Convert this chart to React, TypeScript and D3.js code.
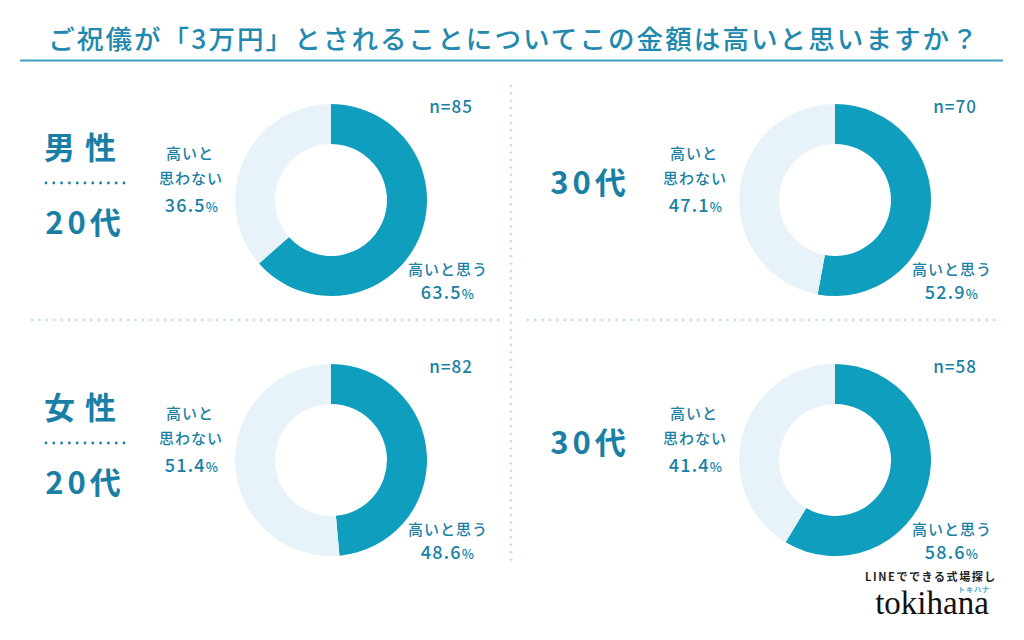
import React from "react";
import * as d3 from "d3";

const WIDTH = 1024;
const HEIGHT = 640;

const title = "ご祝儀が「3万円」とされることについてこの金額は高いと思いますか？";
const panelGender = ["男性", "", "女性", ""];
const panelAge = ["20代", "30代", "20代", "30代"];
const sampleSizes = [85, 70, 82, 58];
const highShare = [63.5, 52.9, 48.6, 58.6];
const notHighShare = [36.5, 47.1, 51.4, 41.4];
const answerLabels = ["高いと思う", "高いと思わない"];

const DARK = "#0f9ebe";
const LIGHT = "#e8f3f9";
const TEXT = "#1a7fa5";
const FONT = "'Noto Sans CJK JP', 'Noto Sans', sans-serif";

const colX = d3.scalePoint<number>().domain([0, 1]).range([331, 835]);
const rowY = d3.scalePoint<number>().domain([0, 1]).range([200, 460]);

const pie = d3.pie<number>().sort(null).value((d) => d);
const arc = d3.arc<d3.PieArcDatum<number>>().innerRadius(56).outerRadius(96);

const Pct = ({ x, y, value }: { x: number; y: number; value: number }) => (
  <text x={x} y={y} textAnchor="middle" fontSize={18} fill={TEXT} fontWeight={500} letterSpacing={1.2}>
    {value.toFixed(1)}
    <tspan fontSize={13}>%</tspan>
  </text>
);

const Panel = ({ i }: { i: number }) => {
  const cx = colX(i % 2)!;
  const cy = rowY(Math.floor(i / 2))!;
  const arcs = pie([highShare[i], notHighShare[i]]);
  const hasGender = panelGender[i] !== "";
  const dots = d3.range(0, 11).map((k) => cx - 285 + k * 7.8);
  return (
    <g>
      {arcs.map((a, k) => (
        <path key={k} d={arc(a)!} transform={`translate(${cx},${cy})`} fill={k === 0 ? DARK : LIGHT} />
      ))}
      <text x={cx + 120} y={cy - 87} textAnchor="middle" fontSize={17} fill={TEXT} fontWeight={500} letterSpacing={1}>
        n={sampleSizes[i]}
      </text>
      {/* not high */}
      <text x={cx - 141} y={cy - 41} textAnchor="middle" fontSize={15} fill={TEXT} fontWeight={500} letterSpacing={1}>
        {answerLabels[1].slice(0, 3)}
      </text>
      <text x={cx - 140} y={cy - 16} textAnchor="middle" fontSize={15} fill={TEXT} fontWeight={500} letterSpacing={1}>
        {answerLabels[1].slice(3)}
      </text>
      <Pct x={cx - 139} y={cy + 12} value={notHighShare[i]} />
      {/* high */}
      <text x={cx + 117} y={cy + 75} textAnchor="middle" fontSize={15} fill={TEXT} fontWeight={500} letterSpacing={1}>
        {answerLabels[0]}
      </text>
      <Pct x={cx + 117} y={cy + 99} value={highShare[i]} />
      {hasGender ? (
        <g>
          <text x={cx - 246} y={cy - 41} textAnchor="middle" fontSize={31} fontWeight={700} fill={TEXT} letterSpacing={10}>
            {panelGender[i]}
          </text>
          {dots.map((x, k) => (
            <circle key={k} cx={x} cy={cy - 17} r={1.4} fill={TEXT} />
          ))}
          <text x={cx - 246} y={cy + 34} textAnchor="middle" fontSize={31} fontWeight={700} fill={TEXT} letterSpacing={4}>
            {panelAge[i]}
          </text>
        </g>
      ) : (
        <text x={cx - 245} y={cy - 6} textAnchor="middle" fontSize={31} fontWeight={700} fill={TEXT} letterSpacing={4}>
          {panelAge[i]}
        </text>
      )}
    </g>
  );
};

export default function App() {
  const hDots = d3.range(32, 998, 7.4).filter((x) => x < 499 || x > 524);
  const vDots = d3.range(86, 566, 7.4);
  return (
    <svg width={WIDTH} height={HEIGHT} style={{ position: "absolute", left: 0, top: 0, background: "#fff" }} fontFamily={FONT}>
      <rect width={WIDTH} height={HEIGHT} fill="#fff" />
      <text x={514} y={49} textAnchor="middle" fontSize={26.5} fontWeight={500} fill="#2089ad" letterSpacing={2.1}>
        {title}
      </text>
      <line x1={20} x2={1003} y1={60.5} y2={60.5} stroke="#3d9fc0" strokeWidth={2} />
      {hDots.map((x, k) => (
        <circle key={`h${k}`} cx={x} cy={320} r={1.4} fill="#c4e2ea" />
      ))}
      {vDots.map((y, k) => (
        <circle key={`v${k}`} cx={511} cy={y} r={1.4} fill="#c4e2ea" />
      ))}
      {[0, 1, 2, 3].map((i) => (
        <Panel key={i} i={i} />
      ))}
      <text x={931} y={581} textAnchor="middle" fontSize={11} fontWeight={700} fill="#222" letterSpacing={1.6}>
        LINEでできる式場探し
      </text>
      <text x={974} y={592} textAnchor="middle" fontSize={7} fontWeight={700} fill="#3aa7d0" letterSpacing={1}>
        トキハナ
      </text>
      <text x={932} y={614} textAnchor="middle" fontSize={33} fill="#111" fontFamily="'Liberation Serif', 'DejaVu Serif', serif">
        tokihana
      </text>
    </svg>
  );
}
